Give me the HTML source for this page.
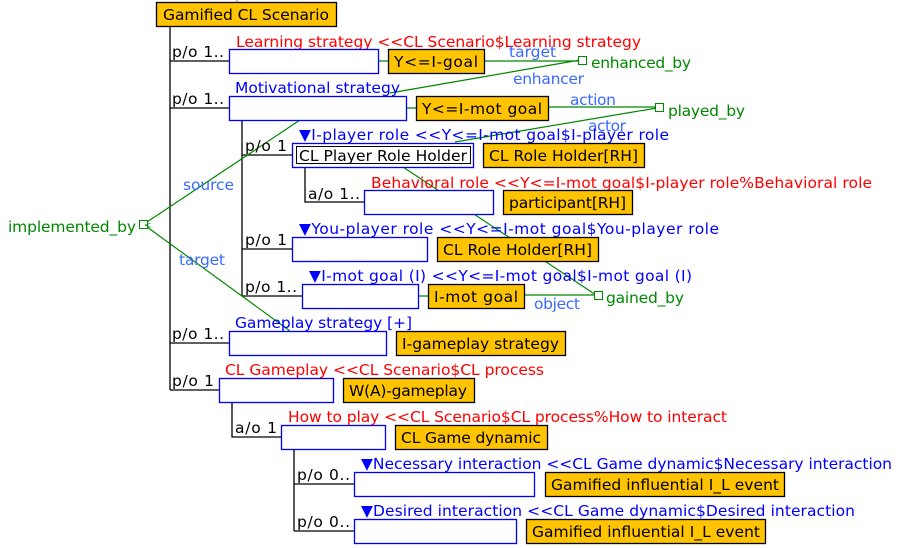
<!DOCTYPE html>
<html><head><meta charset="utf-8"><style>
body{margin:0;background:#fff}
svg{display:block}
text{font-family:"DejaVu Sans","Liberation Sans",sans-serif;font-size:15.5px}
.k{fill:#000}.r{fill:#ff0000}.b{fill:#0000ff}.g{fill:#008800}.lb{fill:#3a6bff}
.ob{fill:#ffc300;stroke:#000;stroke-width:1.3}
.bb{fill:#fff;stroke:#0000ff;stroke-width:1.3}
.ln{stroke:#000;stroke-width:1.3;fill:none}
.gl{stroke:#008800;stroke-width:1.2;fill:none}
</style></head><body>
<svg width="899" height="548" xmlns="http://www.w3.org/2000/svg">
<line x1="237" y1="0" x2="237" y2="3" stroke="#888"/>
<path class="ln" d="M170 26V390M170 61H229M170 108H229M170 343H229M170 390H219
M242 120V296M242 155H292M242 249H292M242 296H302
M305 167V202H364
M232 402V437H281
M294 449V531M294 484H354M294 531H354"/>
<path class="gl" d="M378 61H388M406 108H416M418 296H428M484 61H580M390 93L580 60M548 107H657M455 142L657 108M524 295H596M147 222L300 120M147 227L290 331"/>
<path class="gl" d="M403 167L596 295" stroke-width="0.8"/>
<rect x="578.5" y="56.5" width="8" height="8" fill="#fff" stroke="#008800"/>
<rect x="655.5" y="103.5" width="8" height="8" fill="#fff" stroke="#008800"/>
<rect x="594.5" y="291.5" width="8" height="8" fill="#fff" stroke="#008800"/>
<rect x="139.5" y="220.5" width="8" height="8" fill="#fff" stroke="#008800"/>
<text x="144" y="228" class="g" style="font-size:9px">&lt;</text>
<rect class="ob" x="156.5" y="2.5" width="180" height="24"/>
<text x="163" y="20" class="k" textLength="166">Gamified CL Scenario</text>
<text x="172" y="57" class="k" textLength="52">p/o 1..</text>
<text x="236" y="47" class="r" textLength="405">Learning strategy &lt;&lt;CL Scenario$Learning strategy</text>
<rect class="bb" x="229.5" y="49.5" width="149" height="24"/>
<rect class="ob" x="388.5" y="49.5" width="96" height="24"/>
<text x="394" y="67" class="k" textLength="84">Y&lt;=I-goal</text>
<text x="509" y="57" class="lb">target</text>
<text x="591" y="68" class="g" textLength="100">enhanced_by</text>
<text x="513" y="84" class="lb" textLength="71">enhancer</text>
<text x="172" y="104" class="k" textLength="52">p/o 1..</text>
<text x="235" y="93" class="b" textLength="165">Motivational strategy</text>
<rect class="bb" x="229.5" y="96.5" width="177" height="24"/>
<rect class="ob" x="416.5" y="96.5" width="132" height="24"/>
<text x="422" y="114" class="k" textLength="120">Y&lt;=I-mot goal</text>
<text x="570" y="105" class="lb" textLength="46">action</text>
<text x="668" y="116" class="g" textLength="77">played_by</text>
<text x="588" y="131" class="lb" textLength="38">actor</text>
<text x="245" y="151" class="k" textLength="42">p/o 1</text>
<text x="299" y="140" class="b" textLength="370">▼I-player role &lt;&lt;Y&lt;=I-mot goal$I-player role</text>
<rect class="bb" x="292.5" y="143.5" width="181" height="24"/>
<rect x="296.5" y="146.5" width="174" height="17" fill="#fff" stroke="#000"/>
<text x="299" y="161" class="k" textLength="168">CL Player Role Holder</text>
<rect class="ob" x="483.5" y="143.5" width="161" height="24"/>
<text x="489" y="161" class="k" textLength="149">CL Role Holder[RH]</text>
<text x="308" y="199" class="k" textLength="52">a/o 1..</text>
<text x="371" y="188" class="r" textLength="501">Behavioral role &lt;&lt;Y&lt;=I-mot goal$I-player role%Behavioral role</text>
<rect class="bb" x="364.5" y="190.5" width="129" height="24"/>
<rect class="ob" x="503.5" y="190.5" width="129" height="24"/>
<text x="509" y="208" class="k" textLength="117">participant[RH]</text>
<text x="245" y="245" class="k" textLength="42">p/o 1</text>
<text x="299" y="234" class="b" textLength="420">▼You-player role &lt;&lt;Y&lt;=I-mot goal$You-player role</text>
<rect class="bb" x="292.5" y="237.5" width="135" height="24"/>
<rect class="ob" x="437.5" y="237.5" width="161" height="24"/>
<text x="443" y="255" class="k" textLength="149">CL Role Holder[RH]</text>
<text x="245" y="292" class="k" textLength="52">p/o 1..</text>
<text x="309" y="281" class="b" textLength="383">▼I-mot goal (I) &lt;&lt;Y&lt;=I-mot goal$I-mot goal (I)</text>
<rect class="bb" x="302.5" y="284.5" width="116" height="24"/>
<rect class="ob" x="428.5" y="284.5" width="96" height="24"/>
<text x="434" y="302" class="k" textLength="84">I-mot goal</text>
<text x="534" y="309" class="lb" textLength="46">object</text>
<text x="606" y="303" class="g" textLength="78">gained_by</text>
<text x="8" y="232" class="g" textLength="128">implemented_by</text>
<text x="183" y="190" class="lb" textLength="51">source</text>
<text x="179" y="265" class="lb" textLength="46">target</text>
<text x="172" y="339" class="k" textLength="52">p/o 1..</text>
<text x="235" y="328" class="b" textLength="177">Gameplay strategy  [+]</text>
<rect class="bb" x="229.5" y="331.5" width="157" height="24"/>
<rect class="ob" x="396.5" y="331.5" width="169" height="24"/>
<text x="402" y="349" class="k" textLength="157">I-gameplay strategy</text>
<text x="172" y="386" class="k" textLength="42">p/o 1</text>
<text x="225" y="375" class="r" textLength="319">CL Gameplay &lt;&lt;CL Scenario$CL process</text>
<rect class="bb" x="219.5" y="378.5" width="114" height="24"/>
<rect class="ob" x="343.5" y="378.5" width="131" height="24"/>
<text x="349" y="396" class="k" textLength="118">W(A)-gameplay</text>
<text x="235" y="433" class="k" textLength="42">a/o 1</text>
<text x="288" y="422" class="r" textLength="439">How to play &lt;&lt;CL Scenario$CL process%How to interact</text>
<rect class="bb" x="281.5" y="425.5" width="104" height="24"/>
<rect class="ob" x="395.5" y="425.5" width="152" height="24"/>
<text x="401" y="443" class="k" textLength="140">CL Game dynamic</text>
<text x="297" y="480" class="k" textLength="53">p/o 0..</text>
<text x="361" y="469" class="b" textLength="531">▼Necessary interaction &lt;&lt;CL Game dynamic$Necessary interaction</text>
<rect class="bb" x="354.5" y="472.5" width="180" height="24"/>
<rect class="ob" x="545.5" y="472.5" width="239" height="24"/>
<text x="551" y="490" class="k" textLength="228">Gamified influential I_L event</text>
<text x="297" y="527" class="k" textLength="53">p/o 0..</text>
<text x="361" y="516" class="b" textLength="494">▼Desired interaction &lt;&lt;CL Game dynamic$Desired interaction</text>
<rect class="bb" x="354.5" y="519.5" width="162" height="24"/>
<rect class="ob" x="526.5" y="519.5" width="239" height="24"/>
<text x="532" y="537" class="k" textLength="228">Gamified influential I_L event</text>
</svg>
</body></html>
